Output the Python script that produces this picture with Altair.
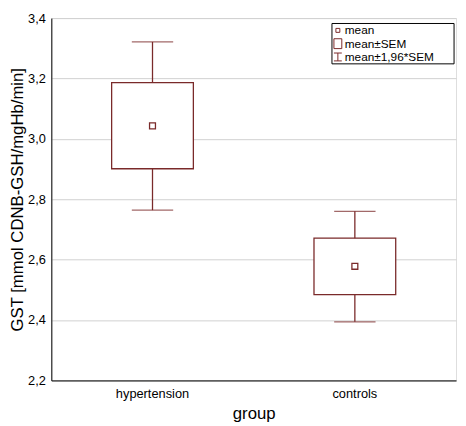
import altair as alt
import pandas as pd

groups = ["hypertension", "controls"]
means = [3.043, 2.578]
sem_lo = [2.901, 2.484]
sem_hi = [3.186, 2.671]
ci_lo = [2.764, 2.394]
ci_hi = [3.321, 2.760]

legend_labels = ["mean", "mean±SEM", "mean±1,96*SEM"]

COL = "#7a2a2a"
FONT = "Liberation Sans"

df = pd.DataFrame({"group": groups, "mean": means, "sem_lo": sem_lo,
                   "sem_hi": sem_hi, "ci_lo": ci_lo, "ci_hi": ci_hi})

W, H = 411, 368

x = alt.X("group:N", sort=groups,
          scale=alt.Scale(paddingInner=0, paddingOuter=0),
          axis=alt.Axis(title="group", labelAngle=0, labelFontSize=13,
                        titleFontSize=17, titleFontWeight="normal",
                        labelPadding=7, titlePadding=6, tickSize=0,
                        domainColor="black", labelColor="black",
                        titleColor="black", labelFont=FONT, titleFont=FONT))
yscale = alt.Scale(domain=[2.2, 3.4], nice=False, zero=False)
y_axis = alt.Axis(title="GST [mmol CDNB-GSH/mgHb/min]", values=[2.2, 2.4, 2.6, 2.8, 3.0, 3.2, 3.4],
                  labelExpr="replace(format(datum.value, '.1f'), '.', ',')",
                  labelFontSize=13, titleFontSize=17, titleFontWeight="normal",
                  tickSize=0, labelPadding=6, titlePadding=1,
                  gridColor="#d0d0d0", domainColor="black",
                  labelColor="black", titleColor="black",
                  labelFont=FONT, titleFont=FONT)

base = alt.Chart(df)

whisk = base.mark_rule(color=COL, strokeWidth=1.3).encode(
    x=x, y=alt.Y("ci_lo:Q", scale=yscale, axis=y_axis), y2="ci_hi:Q")
caps_hi = base.mark_tick(color=COL, size=42, thickness=1.3, orient="horizontal").encode(
    x=x, y=alt.Y("ci_hi:Q", scale=yscale))
caps_lo = base.mark_tick(color=COL, size=42, thickness=1.3, orient="horizontal").encode(
    x=x, y=alt.Y("ci_lo:Q", scale=yscale))
box = base.mark_bar(size=83, fill="white", stroke=COL, strokeWidth=1.3).encode(
    x=x, y=alt.Y("sem_lo:Q", scale=yscale), y2="sem_hi:Q")
meanpt = base.mark_point(shape="square", size=36, filled=False, color=COL,
                         strokeWidth=1.3, opacity=1).encode(
    x=x, y=alt.Y("mean:Q", scale=yscale))

# legend (drawn in pixel space of the plot area)
one = alt.Chart(pd.DataFrame({"k": [0]}))
LX = 285
leg_box = one.mark_rect(fill="white", stroke="black", strokeWidth=1).encode(
    x=alt.value(LX), x2=alt.value(LX + 124), y=alt.value(5.5), y2=alt.value(46.5))
leg_texts = [
    one.mark_text(align="left", baseline="middle", fontSize=12, font=FONT,
                  color="black").encode(x=alt.value(LX + 13), y=alt.value(ty),
                                        text=alt.value(lab))
    for lab, ty in zip(legend_labels, [12.5, 26, 39.5])
]
icon_mean = one.mark_point(shape="square", size=16, filled=False,
                           color=COL, strokeWidth=1, opacity=1).encode(
    x=alt.value(LX + 6), y=alt.value(12.5))
icon_sem = one.mark_rect(fill="white", stroke=COL, strokeWidth=1).encode(
    x=alt.value(LX + 2), x2=alt.value(LX + 10), y=alt.value(21), y2=alt.value(31))
icon_ci_v = one.mark_rule(color=COL, strokeWidth=1).encode(
    x=alt.value(LX + 6), y=alt.value(35.5), y2=alt.value(43.5))
icon_ci_t = one.mark_rule(color=COL, strokeWidth=1).encode(
    x=alt.value(LX + 2), x2=alt.value(LX + 10), y=alt.value(35.5))
icon_ci_b = one.mark_rule(color=COL, strokeWidth=1).encode(
    x=alt.value(LX + 2), x2=alt.value(LX + 10), y=alt.value(43.5))

chart = alt.layer(whisk, caps_hi, caps_lo, box, meanpt,
                  leg_box, *leg_texts, icon_mean, icon_sem, icon_ci_v, icon_ci_t, icon_ci_b
                  ).properties(
    width=W, height=H,
    autosize=alt.AutoSizeParams(type="none"),
    padding={"left": 44, "top": 7, "right": 2, "bottom": 40},
).configure_view(stroke="black", strokeWidth=1.2).configure(font=FONT)

chart.save("out.html", embed_options={"renderer": "svg", "actions": False})
